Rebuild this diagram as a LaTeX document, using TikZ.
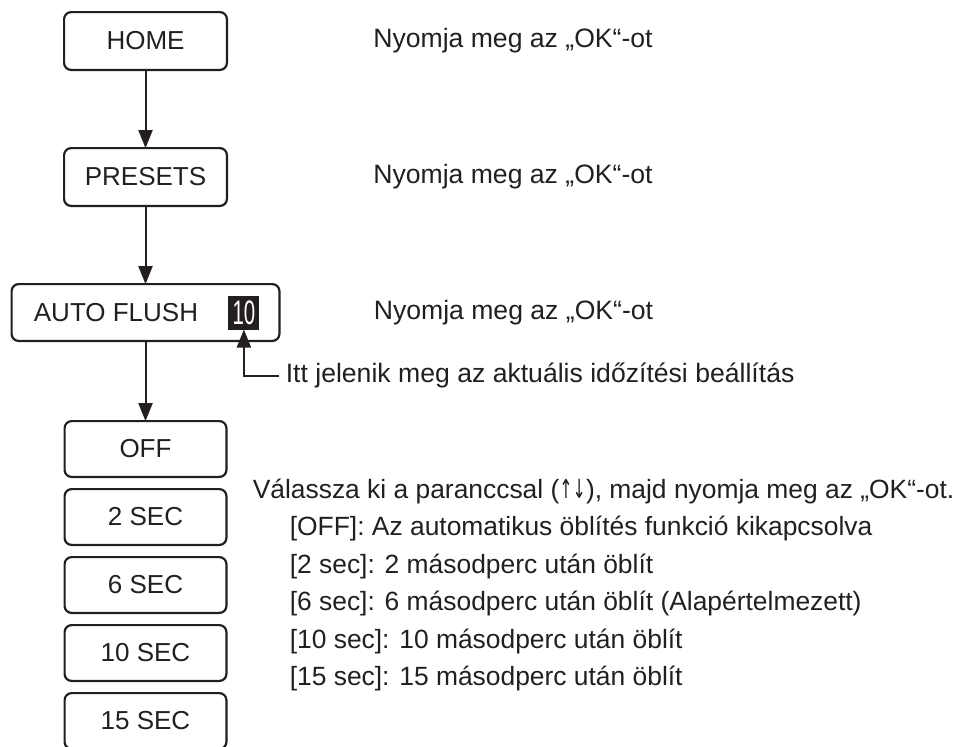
\documentclass[tikz,border=0pt]{standalone}
\usepackage{fontspec}
\setmainfont{Liberation Sans}
\newfontfamily\arrowfont{DejaVu Sans}
\usetikzlibrary{positioning,arrows.meta}
\definecolor{ink}{RGB}{35,31,32}

\begin{document}
\begin{tikzpicture}[
  node distance=39.1pt,
  menu/.style={rectangle, draw=ink, line width=1.1pt, rounded corners=3.5pt,
    minimum width=81.4pt, minimum height=28.9pt, inner sep=0pt, outer sep=0pt,
    text=ink, font=\fontsize{13}{15}\selectfont},
  option/.style={menu, minimum width=80.9pt, minimum height=27.9pt},
  badge/.style={rectangle, fill=ink, text=white, inner sep=0pt, outer sep=0pt,
    minimum width=15.5pt, minimum height=17pt},
  txt/.style={inner sep=0pt, text=ink, font=\fontsize{13.3}{18.7}\selectfont},
  note/.style={txt, inner xsep=3pt},
  arr/.style={-{Triangle[length=9pt, width=7pt]}, draw=ink, line width=1pt}
]
\clip (0,0) rectangle (480.5pt,-373pt);
% menu path
\node[menu] (home) at (72.75pt,-20.5pt) {HOME};
\node[menu, below=of home] (presets) {PRESETS};
\node[menu, minimum width=133.9pt, minimum height=28.4pt, below=of presets] (autof) {AUTO FLUSH\makebox[29.5pt]{}};
\node[badge, left=10pt of autof.east] (cur) {\fontsize{17}{18}\selectfont\scalebox{0.6}[1]{10}};
% options
\node[option, below=40.1pt of autof] (off)  {OFF};
\node[option, below=6.1pt of off]   (sec2)  {2 SEC};
\node[option, below=6.1pt of sec2]  (sec6)  {6 SEC};
\node[option, below=6.1pt of sec6]  (sec10) {10 SEC};
\node[option, below=6.1pt of sec10] (sec15) {15 SEC};
% explanations
\node[txt, right=73pt of home]    (ok1) {Nyomja meg az „OK“-ot};
\node[txt, right=73pt of presets] (ok2) {Nyomja meg az „OK“-ot};
\node[txt, right=47pt of autof]   (ok3) {Nyomja meg az „OK“-ot};
\node[note, right=0pt of autof.south east, yshift=-17.5pt] (note) {Itt jelenik meg az aktuális időzítési beállítás};
\node[txt, font=\fontsize{13.2}{18.7}\selectfont, align=left, right=13pt of sec6] (help) {Válassza ki a paranccsal ({\arrowfont\scalebox{0.6}[1]{↑}\scalebox{0.6}[1]{↓}}), majd nyomja meg az „OK“-ot.\\
\hspace*{18.5pt}[OFF]: Az automatikus öblítés funkció kikapcsolva\\
\hspace*{18.5pt}[2 sec]: 2 másodperc után öblít\\
\hspace*{18.5pt}[6 sec]: 6 másodperc után öblít (Alapértelmezett)\\
\hspace*{18.5pt}[10 sec]: 10 másodperc után öblít\\
\hspace*{18.5pt}[15 sec]: 15 másodperc után öblít};
\draw[arr] (home) -- (presets);
\draw[arr] (presets) -- (autof);
\draw[arr] (autof) -- (off);
\draw[arr] (note.west) -| (cur.south);
\end{tikzpicture}
\end{document}
